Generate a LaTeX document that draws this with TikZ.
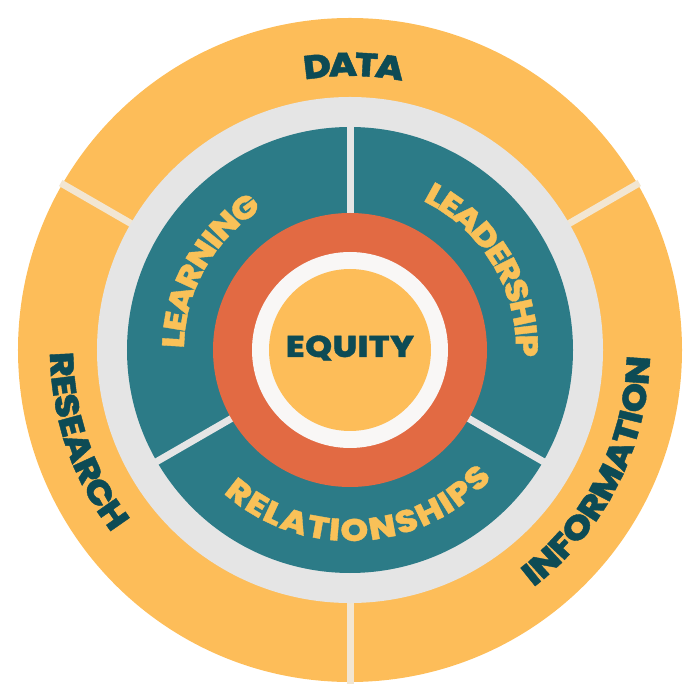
\documentclass[tikz,border=0pt]{standalone}
\usepackage{fontspec}
\IfFontExistsTF{Poppins ExtraBold}
  {\newfontfamily\hfont{Poppins ExtraBold}[FakeStretch=1.14, FakeBold=1.2]}
  {\newfontfamily\hfont{Poppins Bold}[FakeStretch=1.14, FakeBold=1.2]}
\usetikzlibrary{decorations.text}
\definecolor{ringy}{HTML}{FDBD59}
\definecolor{ringg}{HTML}{E5E5E5}
\definecolor{ringt}{HTML}{2C7B87}
\definecolor{ringo}{HTML}{E26A43}
\definecolor{ringw}{HTML}{F9F7F6}
\definecolor{ringc}{HTML}{FDBD59}
\definecolor{cream}{HTML}{F2E6D2}
\definecolor{ink}{HTML}{0D4B55}
\definecolor{gold}{HTML}{F9C158}
\tikzset{
  outerlbl/.style={decorate, decoration={text effects along path, text={#1},
     text effects/.cd, text along path, fit text to path,
     characters={inner sep=0pt, text=ink, font=\hfont\fontsize{33}{33}\selectfont}}},
  innerlbl/.style={decorate, decoration={text effects along path, text={#1},
     text effects/.cd, text along path, fit text to path,
     characters={inner sep=0pt, text=gold, font=\hfont\fontsize{31}{31}\selectfont}}},
  sepline/.style={line width=7pt}
}
\begin{document}
\begin{tikzpicture}[x=1pt,y=1pt]
\useasboundingbox (-350,-350) rectangle (350,350);
\fill[ringy] (0,0) circle (332);
\foreach \a in {30,150,270} \draw[cream, sepline] (\a:250) -- (\a:334);
\fill[ringg] (0,0) circle (253);
\fill[ringt] (0,0) circle (223);
\foreach \a in {90,210,330} \draw[ringg, sepline] (\a:130) -- (\a:226);
\fill[ringo] (0,0) circle (137);
\fill[ringw] (0,0) circle (98);
\fill[ringc] (0,0) circle (81);
\node[font=\hfont\fontsize{30}{30}\selectfont\addfontfeature{LetterSpace=2}, text=ink] (equity) at (0,2) {EQUITY};
% outer texts
\path[outerlbl={DATA}] (99.5:274) arc (99.5:79:274);
\path[outerlbl={RESEARCH}] (180.5:300) arc (180.5:217.5:300);
\path[outerlbl={INFORMATION}] (307.7:300) arc (307.7:358.7:300);
% inner texts
\path[innerlbl={LEARNING}] (179.5:166) arc (179.5:122:166);
\path[innerlbl={LEADERSHIP}] (64:166) arc (64:-2.5:166);
\path[innerlbl={RELATIONSHIPS}] (228.5:191) arc (228.5:318:191);
\end{tikzpicture}
\end{document}
